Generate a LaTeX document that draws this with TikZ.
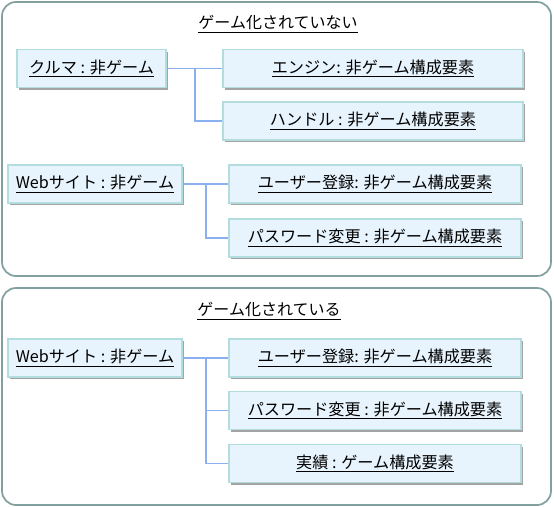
\documentclass[tikz,border=0pt]{standalone}
\usepackage{fontspec}
\setmainfont{Noto Sans CJK JP}
\usetikzlibrary{shadows}
\definecolor{panelline}{HTML}{82A0A0}
\definecolor{boxfill}{HTML}{E8F4FD}
\definecolor{boxline}{HTML}{B2DCDE}
\definecolor{linkline}{HTML}{8AB0F0}
\begin{document}
\begin{tikzpicture}[x=0.75pt,y=-0.75pt,
  panel/.style={draw=panelline,line width=1.3pt,rounded corners=10.5pt,fill=white,inner sep=0pt},
  part/.style={draw=boxline,fill=boxfill,line width=1.4pt,inner sep=0pt,minimum height=28.5pt,
    font=\fontsize{12.1}{14}\selectfont,
    drop shadow={shadow xshift=1.6pt,shadow yshift=-1.6pt,fill=black!45,opacity=0.8}},
  title/.style={font=\fontsize{12}{14}\selectfont,inner sep=0pt},
  link/.style={draw=linkline,line width=0.8pt}]
\useasboundingbox (0,0) rectangle (554,507);
\node[panel,minimum width=411.75pt,minimum height=205.5pt] (p1) at (276.5,139) {};
\node[panel,minimum width=411.75pt,minimum height=162.75pt] (p2) at (276.5,396.5) {};
\node[title] (t1) at (278,24) {\underline{ゲーム化されていない}};
\node[title] (t2) at (269,311) {\underline{ゲーム化されている}};
% panel 1
\node[part,minimum width=111.75pt] (car) at (91.5,68.5) {\underline{クルマ : 非ゲーム}};
\node[part,minimum width=225pt] (engine) at (373,68.5) {\underline{エンジン: 非ゲーム構成要素}};
\node[part,minimum width=225pt] (handle) at (373,121) {\underline{ハンドル : 非ゲーム構成要素}};
\node[part,minimum width=130.5pt] (web1) at (95,184) {\underline{Webサイト : 非ゲーム}};
\node[part,minimum width=219pt] (user1) at (375,184) {\underline{ユーザー登録: 非ゲーム構成要素}};
\node[part,minimum width=219pt] (pass1) at (375,238) {\underline{パスワード変更 : 非ゲーム構成要素}};
% panel 2
\node[part,minimum width=130.5pt] (web2) at (95,358) {\underline{Webサイト : 非ゲーム}};
\node[part,minimum width=219pt] (user2) at (375,358) {\underline{ユーザー登録: 非ゲーム構成要素}};
\node[part,minimum width=219pt] (pass2) at (375,410.5) {\underline{パスワード変更 : 非ゲーム構成要素}};
\node[part,minimum width=219pt] (achieve) at (375,463.5) {\underline{実績 : ゲーム構成要素}};
% connectors
\coordinate (j1) at (195,68.5);
\coordinate (j2) at (206,184);
\coordinate (j3) at (206,358);
\draw[link] (car.east) -- (engine.west);
\draw[link] (j1) |- (handle.west);
\draw[link] (web1.east) -- (user1.west);
\draw[link] (j2) |- (pass1.west);
\draw[link] (web2.east) -- (user2.west);
\draw[link] (j3) |- (pass2.west);
\draw[link] (j3) |- (achieve.west);
\end{tikzpicture}
\end{document}
